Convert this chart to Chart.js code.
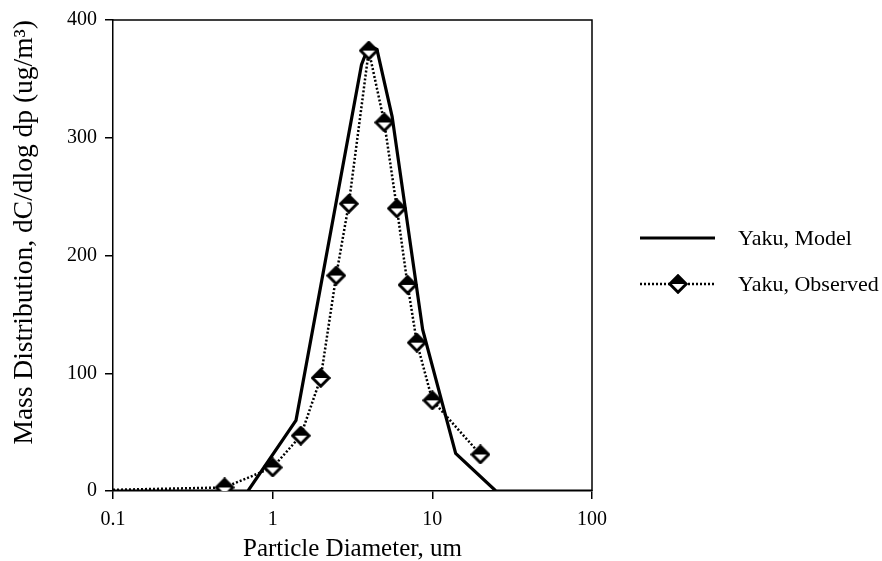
<!DOCTYPE html>
<html>
<head>
<meta charset="utf-8">
<script src="https://cdn.jsdelivr.net/npm/chart.js@4"></script>
<style>
  html, body { margin: 0; padding: 0; background: #fff; }
  #wrap { width: 882px; height: 561px; }
</style>
</head>
<body>
<div id="wrap"><canvas id="chart" width="882" height="561"></canvas></div>
<script>
// --- data ---
const modelX = [0.1, 0.7, 1.4, 3.6, 4.0, 4.5, 5.6, 8.7, 14, 25, 100];
const modelY = [0, 0, 60, 362, 378, 375, 318, 137, 32, 0, 0];

const obsX = [0.1, 0.5, 1, 1.5, 2, 2.5, 3, 4, 5, 6, 7, 8, 10, 20];
const obsY = [1, 3, 20, 47, 96, 183, 244, 374, 313, 240, 175, 126, 77, 31];

const xTicks = [0.1, 1, 10, 100];
const yTicks = [0, 100, 200, 300, 400];

const FONT = "'Liberation Serif', 'DejaVu Serif', serif";

// half black / half white diamond marker
function makeDiamond(size) {
    const c = document.createElement('canvas');
    c.width = size; c.height = size;
    const g = c.getContext('2d');
    const m = size / 2, r = size / 2 - 1.8;
    g.lineJoin = 'miter';
    // top half black
    g.beginPath();
    g.moveTo(m - r, m); g.lineTo(m, m - r); g.lineTo(m + r, m); g.closePath();
    g.fillStyle = '#000'; g.fill();
    // bottom half white
    g.beginPath();
    g.moveTo(m - r, m); g.lineTo(m + r, m); g.lineTo(m, m + r); g.closePath();
    g.fillStyle = '#fff'; g.fill();
    // outline
    g.beginPath();
    g.moveTo(m - r, m); g.lineTo(m, m - r); g.lineTo(m + r, m); g.lineTo(m, m + r); g.closePath();
    g.lineWidth = 3; g.strokeStyle = '#000'; g.stroke();
    return c;
}
const diamond = makeDiamond(20);

// frame round the plot + legend on the right
const framePlugin = {
    id: 'frame',
    afterDraw(chart) {
        const ctx = chart.ctx, a = chart.chartArea;
        ctx.save();
        ctx.strokeStyle = '#000';
        ctx.lineWidth = 1.5;
        ctx.beginPath();
        ctx.moveTo(a.left, a.top); ctx.lineTo(a.right, a.top); ctx.lineTo(a.right, a.bottom);
        ctx.stroke();

        // legend
        ctx.font = '22px ' + FONT;
        ctx.fillStyle = '#000';
        ctx.textBaseline = 'middle';
        ctx.lineWidth = 3;
        ctx.beginPath(); ctx.moveTo(640, 238); ctx.lineTo(715, 238); ctx.stroke();
        ctx.fillText('Yaku, Model', 738, 239);

        ctx.lineWidth = 2.5;
        ctx.setLineDash([2, 2]);
        ctx.beginPath(); ctx.moveTo(640, 284); ctx.lineTo(715, 284); ctx.stroke();
        ctx.setLineDash([]);
        ctx.drawImage(diamond, 678 - 10, 284 - 10);
        ctx.fillText('Yaku, Observed', 738, 285);
        ctx.restore();
    }
};

new Chart(document.getElementById('chart'), {
    type: 'line',
    data: {
        datasets: [
            {
                label: 'Yaku, Model',
                data: modelX.map((x, i) => ({ x, y: modelY[i] })),
                borderColor: '#000',
                borderWidth: 3.2,
                pointRadius: 0,
                tension: 0,
                order: 2
            },
            {
                label: 'Yaku, Observed',
                data: obsX.map((x, i) => ({ x, y: obsY[i] })),
                borderColor: '#000',
                borderWidth: 2.5,
                borderDash: [2, 2],
                pointStyle: diamond,
                pointRadius: (c) => c.dataIndex === 0 ? 0 : 10,
                tension: 0,
                order: 1
            }
        ]
    },
    options: {
        responsive: false,
        animation: false,
        layout: { padding: { left: 0, top: 20, right: 290, bottom: 0 } },
        plugins: { legend: { display: false }, tooltip: { enabled: false } },
        scales: {
            x: {
                type: 'logarithmic',
                min: 0.1,
                max: 100,
                afterBuildTicks: (s) => { s.ticks = xTicks.map(v => ({ value: v })); },
                afterFit: (s) => { s.height = 70; },
                ticks: {
                    color: '#000',
                    font: { family: FONT, size: 20 },
                    padding: 9,
                    maxRotation: 0,
                    callback: (v) => String(v)
                },
                grid: { drawOnChartArea: false, color: '#000', tickLength: 8, lineWidth: 1.5 },
                border: { color: '#000', width: 1.5 },
                title: {
                    display: true,
                    text: 'Particle Diameter, um',
                    color: '#000',
                    font: { family: FONT, size: 25 },
                    padding: { top: 4, bottom: -3 }
                }
            },
            y: {
                min: 0,
                max: 400,
                afterBuildTicks: (s) => { s.ticks = yTicks.map(v => ({ value: v })); },
                afterFit: (s) => { s.width = 113; },
                ticks: {
                    color: '#000',
                    font: { family: FONT, size: 20 },
                    padding: 8
                },
                grid: { drawOnChartArea: false, color: '#000', tickLength: 8, lineWidth: 1.5 },
                border: { color: '#000', width: 1.5 },
                title: {
                    display: true,
                    align: 'end',
                    text: 'Mass Distribution, dC/dlog dp (ug/m\u00B3)',
                    color: '#000',
                    font: { family: FONT, size: 27.5 },
                    padding: { top: 8, bottom: 0 }
                }
            }
        }
    },
    plugins: [framePlugin]
});
</script>
</body>
</html>
